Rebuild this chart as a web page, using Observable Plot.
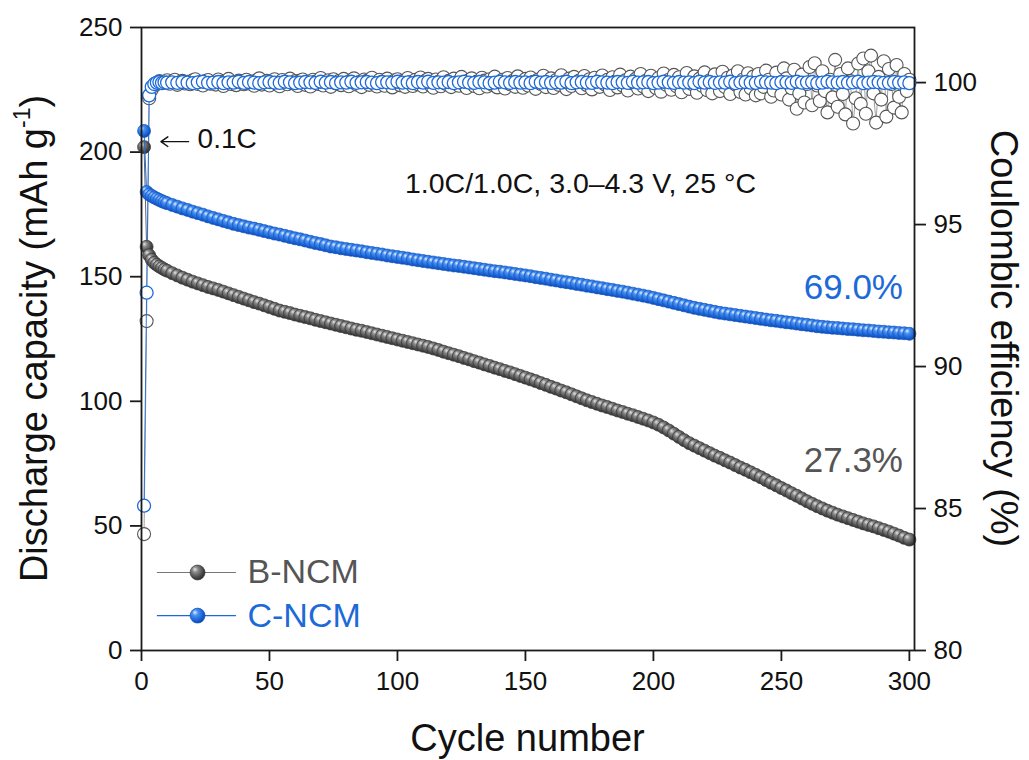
<!DOCTYPE html>
<html><head><meta charset="utf-8">
<script src="https://cdn.jsdelivr.net/npm/d3@7"></script>
<script src="https://cdn.jsdelivr.net/npm/@observablehq/plot@0.6"></script>
<style>
body{margin:0;background:#fff;font-family:"Liberation Sans",Arial,sans-serif}
svg{display:block}
</style>
</head><body><div id="chart"></div>
<script>
// ---------- DATA ----------
const seriesNames = ["B-NCM", "C-NCM"];
const xTicks = [0, 50, 100, 150, 200, 250, 300];
const yTicks = [0, 50, 100, 150, 200, 250];
const ceTicks = [80, 85, 90, 95, 100];

// cycle numbers for discharge capacity (and C-NCM efficiency)
const capCycles = [
1,2,3,4,5,6,7,8,9,10,
12,14,16,18,20,22,24,26,28,30,
32,34,36,38,40,42,44,46,48,50,
52,54,56,58,60,62,64,66,68,70,
72,74,76,78,80,82,84,86,88,90,
92,94,96,98,100,102,104,106,108,110,
112,114,116,118,120,122,124,126,128,130,
132,134,136,138,140,142,144,146,148,150,
152,154,156,158,160,162,164,166,168,170,
172,174,176,178,180,182,184,186,188,190,
192,194,196,198,200,202,204,206,208,210,
212,214,216,218,220,222,224,226,228,230,
232,234,236,238,240,242,244,246,248,250,
252,254,256,258,260,262,264,266,268,270,
272,274,276,278,280,282,284,286,288,290,
292,294,296,298,300];

// B-NCM discharge capacity (mAh/g)
const bCap = [
202.0,162.0,158.6,156.8,155.6,154.8,154.1,153.5,152.9,152.4,
151.4,150.5,149.6,148.8,148.0,147.3,146.6,145.9,145.3,144.7,
144.0,143.3,142.6,141.9,141.2,140.5,139.8,139.2,138.5,137.8,
137.1,136.4,135.9,135.4,134.8,134.3,133.8,133.3,132.7,132.2,
131.7,131.2,130.7,130.2,129.7,129.2,128.7,128.3,127.8,127.3,
126.8,126.3,125.8,125.3,124.8,124.3,123.8,123.3,122.8,122.3,
121.8,121.2,120.6,119.9,119.3,118.7,118.1,117.4,116.8,116.1,
115.5,114.8,114.2,113.5,112.9,112.2,111.6,110.9,110.2,109.5,
108.8,108.1,107.3,106.6,105.8,105.1,104.3,103.6,102.8,102.0,
101.2,100.4,99.7,99.0,98.3,97.7,97.0,96.3,95.7,95.0,
94.4,93.7,93.0,92.3,91.5,90.6,89.5,88.3,87.0,85.7,
84.4,83.2,82.2,81.2,80.2,79.2,78.2,77.3,76.3,75.4,
74.4,73.4,72.5,71.5,70.5,69.5,68.4,67.3,66.3,65.2,
64.2,63.1,62.1,61.0,59.9,58.9,57.9,57.0,56.1,55.3,
54.5,53.8,53.1,52.4,51.7,51.0,50.4,49.8,49.1,48.4,
47.7,46.9,46.1,45.2,44.5];

// C-NCM discharge capacity (mAh/g)
const cCap = [
208.5,184.0,183.0,182.4,181.8,181.3,180.8,180.3,179.9,179.5,
178.8,178.1,177.4,176.8,176.1,175.5,174.9,174.2,173.6,173.0,
172.4,171.8,171.2,170.7,170.2,169.7,169.3,168.8,168.3,167.8,
167.3,166.9,166.4,165.9,165.4,165.0,164.5,164.0,163.5,163.1,
162.6,162.1,161.8,161.4,161.1,160.8,160.5,160.2,159.8,159.5,
159.2,158.9,158.5,158.2,157.9,157.6,157.3,156.9,156.6,156.3,
156.0,155.7,155.4,155.1,154.8,154.5,154.3,154.0,153.7,153.4,
153.1,152.8,152.5,152.2,152.0,151.7,151.4,151.1,150.8,150.5,
150.2,149.8,149.5,149.2,148.8,148.5,148.1,147.8,147.5,147.1,
146.8,146.4,146.1,145.7,145.4,145.0,144.7,144.3,144.0,143.6,
143.2,142.8,142.4,142.0,141.5,141.0,140.5,140.0,139.5,139.0,
138.5,138.0,137.5,137.1,136.7,136.3,135.9,135.5,135.2,134.9,
134.6,134.3,134.0,133.7,133.4,133.1,132.8,132.5,132.3,132.0,
131.7,131.5,131.2,130.9,130.7,130.4,130.1,129.9,129.7,129.5,
129.4,129.2,129.0,128.9,128.7,128.5,128.4,128.2,128.0,127.9,
127.7,127.6,127.4,127.3,127.1];

// C-NCM coulombic efficiency (%), on capCycles
const cCE = [
85.10,92.60,99.55,99.85,99.95,100.00,100.02,99.99,100.01,100.00,
100.01,99.99,100.02,100.00,99.98,100.01,100.03,99.99,100.00,100.02,
99.98,100.01,100.00,100.03,99.99,100.02,100.00,99.98,100.01,100.02,
100.00,99.99,100.03,100.01,99.98,100.00,100.02,100.01,99.99,100.03,
100.00,100.02,99.98,100.01,100.00,100.03,99.99,100.01,100.02,100.00,
99.98,100.02,100.01,99.99,100.03,100.00,100.01,99.98,100.02,100.00,
100.03,99.99,100.01,100.00,100.02,99.98,100.01,100.03,100.00,99.99,
100.02,100.01,99.98,100.00,100.03,100.01,99.99,100.02,100.00,100.01,
99.98,100.03,100.00,100.02,99.99,100.01,100.00,100.03,99.98,100.01,
100.02,100.00,99.99,100.03,100.01,100.00,99.98,100.02,100.01,99.99,
100.03,100.00,100.01,100.02,99.98,100.00,100.03,100.01,99.99,100.02,
100.00,100.01,99.98,100.03,100.00,100.02,99.99,100.01,100.00,100.03,
99.98,100.01,100.02,100.00,99.99,100.03,100.01,100.00,99.98,100.02,
100.01,99.99,100.03,100.00,100.01,100.02,99.98,100.00,100.03,100.01,
100.00,100.02,99.99,100.01,100.03,99.98,100.00,100.02,100.01,99.99,
99.99,100.02,100.00,100.01,99.98];

// B-NCM coulombic efficiency (%), every cycle
const bCECycles = [
1,2,3,4,5,6,7,8,9,10,11,12,13,14,15,16,17,18,19,20,
21,22,23,24,25,26,27,28,29,30,31,32,33,34,35,36,37,38,39,40,
41,42,43,44,45,46,47,48,49,50,51,52,53,54,55,56,57,58,59,60,
61,62,63,64,65,66,67,68,69,70,71,72,73,74,75,76,77,78,79,80,
81,82,83,84,85,86,87,88,89,90,91,92,93,94,95,96,97,98,99,100,
101,102,103,104,105,106,107,108,109,110,111,112,113,114,115,116,117,118,119,120,
121,122,123,124,125,126,127,128,129,130,131,132,133,134,135,136,137,138,139,140,
141,142,143,144,145,146,147,148,149,150,151,152,153,154,155,156,157,158,159,160,
161,162,163,164,165,166,167,168,169,170,171,172,173,174,175,176,177,178,179,180,
181,182,183,184,185,186,187,188,189,190,191,192,193,194,195,196,197,198,199,200,
201,202,203,204,205,206,207,208,209,210,211,212,213,214,215,216,217,218,219,220,
221,222,223,224,225,226,227,228,229,230,231,232,233,234,235,236,237,238,239,240,
241,242,243,244,245,246,247,248,249,250,251,252,253,254,255,256,257,258,259,260,
261,262,263,264,265,266,267,268,269,270,271,272,273,274,275,276,277,278,279,280,
281,282,283,284,285,286,287,288,289,290,291,292,293,294,295,296,297,298,299,300];
const bCE = [
84.10,91.60,99.45,99.75,99.90,99.95,100.05,99.98,100.02,100.08,
99.96,100.04,100.10,99.92,100.01,100.06,99.97,100.03,99.94,100.08,
100.12,99.95,100.02,99.90,100.05,100.09,99.96,100.00,99.93,100.11,
100.03,99.88,100.06,100.13,99.95,100.01,99.91,100.07,100.02,99.94,
100.10,99.97,100.04,99.89,100.08,100.15,99.93,100.00,100.06,99.90,
100.03,100.12,99.95,99.87,100.09,100.02,99.94,100.14,99.98,100.05,
99.88,100.07,100.11,99.92,100.01,99.86,100.10,100.04,99.95,100.16,
99.90,100.03,100.08,99.85,100.12,99.97,100.05,99.91,100.13,100.00,
99.87,100.09,100.15,99.93,100.02,99.84,100.11,100.06,99.92,100.17,
99.95,99.86,100.10,100.04,99.89,100.14,100.00,99.83,100.08,100.12,
99.91,100.05,99.85,100.16,100.02,99.88,100.10,99.94,100.18,99.86,
100.07,100.13,99.90,99.82,100.11,100.03,99.87,100.19,99.95,100.06,
99.84,100.14,100.01,99.89,100.20,99.93,99.81,100.09,100.15,99.88,
100.04,99.80,100.17,100.07,99.86,100.12,99.92,100.21,99.83,100.02,
100.10,99.79,100.16,99.94,100.06,99.85,100.22,100.00,99.82,100.13,
99.90,100.18,100.03,99.78,100.11,99.95,100.24,99.84,100.05,100.15,
99.81,100.09,99.92,100.26,100.02,99.77,100.14,99.88,100.20,99.96,
100.07,99.80,100.23,99.91,100.12,99.76,100.17,100.01,99.85,100.25,
99.93,100.10,99.74,100.19,100.04,99.83,100.28,99.90,100.08,99.72,
100.21,99.97,100.13,99.79,100.30,99.86,100.06,99.70,100.24,100.00,
99.81,100.16,99.68,100.32,99.92,100.10,99.75,100.27,99.87,100.19,
99.66,100.05,100.34,99.78,99.95,100.22,99.64,100.14,99.89,100.36,
99.73,100.08,99.62,100.29,99.98,99.70,100.38,99.84,100.17,99.60,
100.25,99.93,100.40,99.67,100.11,99.58,100.33,99.80,100.21,99.55,
100.30,99.62,99.85,100.42,100.10,99.50,99.72,100.35,99.95,99.58,
100.50,100.15,99.40,99.80,100.45,99.08,99.62,100.28,99.30,99.95,
100.55,99.20,100.68,99.90,99.35,100.40,99.70,98.95,100.10,99.48,
100.80,99.15,100.30,99.60,98.88,100.50,100.05,98.56,99.45,100.67,
99.25,100.85,98.90,100.40,100.95,99.62,98.59,100.20,99.40,100.75,
98.80,100.48,99.95,99.12,100.62,99.50,98.95,100.30,99.70,100.10];

// ---------- LAYOUT / STYLE ----------
const W = 1029, H = 760;
const ML = 141, MR = 115, MT = 27, MB = 110;
const CAP_MAX = 250, CE_MIN = 80, CE_MAX = 101.94;
const ceToCap = v => (v - CE_MIN) / (CE_MAX - CE_MIN) * CAP_MAX;
const capToCe = v => v / CAP_MAX * (CE_MAX - CE_MIN) + CE_MIN;
const GRAY = "#4f4f4f", BLUE = "#1c6ad8";
const FONT = "Liberation Sans, Arial, sans-serif";

const capB = capCycles.map((c, i) => ({cycle: c, v: bCap[i]}));
const capC = capCycles.map((c, i) => ({cycle: c, v: cCap[i]}));
const ceB = bCECycles.map((c, i) => ({cycle: c, v: ceToCap(bCE[i])}));
const ceC = capCycles.map((c, i) => ({cycle: c, v: ceToCap(cCE[i])}));

// annotation anchors (data coordinates)
const arrow01 = {x1: 18.4, x2: 7.6, y: 204.2};
const notes = [
  {x: 21.9, y: 205.3, t: "0.1C", size: 28, color: "#111", anchor: "start"},
  {x: 171.5, y: 187.4, t: "1.0C/1.0C, 3.0\u20134.3 V, 25 \u00B0C", size: 28.5, color: "#111", anchor: "middle"},
  {x: 297.5, y: 145.7, t: "69.0%", size: 35, color: BLUE, anchor: "end"},
  {x: 297.5, y: 76.2, t: "27.3%", size: 35, color: "#555", anchor: "end"}
];
const legendRows = [
  {name: seriesNames[0], y: 31.3, line: "#777", text: "#555", grad: "url(#ballGray)", edge: "#333"},
  {name: seriesNames[1], y: 14.0, line: BLUE, text: BLUE, grad: "url(#ballBlue)", edge: "#0e4fb5"}
];

const plot = Plot.plot({
  width: W, height: H,
  marginLeft: ML, marginRight: MR, marginTop: MT, marginBottom: MB,
  style: {fontFamily: FONT, color: "#111", background: "#fff", overflow: "visible"},
  x: {domain: [0, 302]},
  y: {domain: [0, CAP_MAX]},
  marks: [
    Plot.axisX(xTicks, {tickSize: 11, tickPadding: 10, fontSize: 26, label: null, strokeWidth: 1.8, stroke: "#1a1a1a"}),
    Plot.axisY(yTicks, {anchor: "left", tickSize: 11, tickPadding: 8, fontSize: 26, label: null, strokeWidth: 1.8, stroke: "#1a1a1a"}),
    Plot.axisY(ceTicks.map(ceToCap), {anchor: "right", tickSize: 11, tickPadding: 8, fontSize: 26, label: null,
      strokeWidth: 1.8, stroke: "#1a1a1a", tickFormat: d => String(Math.round(capToCe(d)))}),
    // coulombic efficiency
    Plot.line(ceB, {x: "cycle", y: "v", stroke: "#777", strokeWidth: 0.7}),
    Plot.dot(ceB, {x: "cycle", y: "v", r: 6.5, fill: "#fff", stroke: "#555", strokeWidth: 1.1}),
    Plot.line(ceC, {x: "cycle", y: "v", stroke: BLUE, strokeWidth: 0.9}),
    Plot.dot(ceC, {x: "cycle", y: "v", r: 6.5, fill: "#fff", stroke: BLUE, strokeWidth: 1.3}),
    // discharge capacity
    Plot.line(capB, {x: "cycle", y: "v", stroke: "#666", strokeWidth: 1}),
    Plot.dot(capB, {x: "cycle", y: "v", r: 6.5, fill: "url(#ballGray)", stroke: "#3a3a3a", strokeWidth: 0.7}),
    Plot.line(capC, {x: "cycle", y: "v", stroke: BLUE, strokeWidth: 1}),
    Plot.dot(capC, {x: "cycle", y: "v", r: 6.5, fill: "url(#ballBlue)", stroke: "#1456c4", strokeWidth: 0.7}),
    // annotations
    Plot.arrow([arrow01], {x1: "x1", x2: "x2", y1: "y", y2: "y", stroke: "#111", strokeWidth: 1.4, headLength: 9, headAngle: 70}),
    ...notes.map(n => Plot.text([n], {x: "x", y: "y", text: "t", fontSize: n.size, fill: n.color, textAnchor: n.anchor, lineAnchor: "middle"})),
    // legend
    ...legendRows.flatMap(r => [
      Plot.ruleY([r.y], {x1: 6.2, x2: 37.1, stroke: r.line, strokeWidth: 1.2}),
      Plot.dot([r], {x: () => 21.9, y: "y", r: 7.5, fill: r.grad, stroke: r.edge, strokeWidth: 0.6}),
      Plot.text([r], {x: () => 41.4, y: "y", text: "name", fontSize: 34, fill: r.text, textAnchor: "start", lineAnchor: "middle"})
    ]),
    Plot.frame({stroke: "#1a1a1a", strokeWidth: 1.8})
  ]
});

const svg = d3.select(plot);
const defs = svg.insert("defs", ":first-child");
function ball(id, stops) {
  const g = defs.append("radialGradient").attr("id", id)
    .attr("cx", "40%").attr("cy", "38%").attr("r", "62%").attr("fx", "32%").attr("fy", "28%");
  stops.forEach(([o, c]) => g.append("stop").attr("offset", o).attr("stop-color", c));
}
ball("ballGray", [["0%", "#e6e6e6"], ["30%", "#8a8a8a"], ["75%", "#4a4a4a"], ["100%", "#2e2e2e"]]);
ball("ballBlue", [["0%", "#e8f1ff"], ["30%", "#4a92f2"], ["75%", "#1a63d4"], ["100%", "#0d48ad"]]);

// axis titles
const titles = svg.append("g").attr("font-family", FONT).attr("fill", "#111").attr("font-size", 38);
const lt = titles.append("text").attr("transform", `translate(47,${(MT + H - MB) / 2}) rotate(-90)`).attr("text-anchor", "middle");
lt.append("tspan").text("Discharge capacity (mAh g");
lt.append("tspan").attr("font-size", 23).attr("dy", "-0.75em").text("-1");
lt.append("tspan").attr("dy", "0.45em").text(")");
titles.append("text").attr("transform", `translate(991,${(MT + H - MB) / 2}) rotate(90)`).attr("text-anchor", "middle")
  .text("Coulombic efficiency (%)");
titles.append("text").attr("x", (ML + W - MR) / 2).attr("y", 751).attr("text-anchor", "middle").text("Cycle number");

document.getElementById("chart").appendChild(plot);
</script>
</body></html>
